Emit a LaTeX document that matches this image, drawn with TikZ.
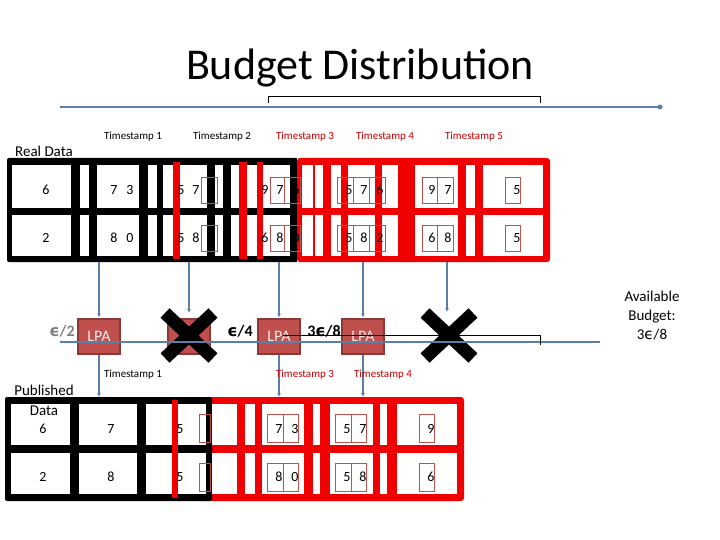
\documentclass[tikz,border=0pt]{standalone}
\usepackage{fontspec}
\usetikzlibrary{arrows.meta}
\setmainfont{Carlito}
\newfontfamily\dv{DejaVu Sans}
\definecolor{rr}{HTML}{F00000}
\definecolor{lpaf}{HTML}{C0504D}
\definecolor{lpad}{HTML}{8C3836}
\definecolor{bl}{HTML}{5A80AA}
\definecolor{dr}{HTML}{C00000}
\begin{document}
\begin{tikzpicture}[x=1pt,y=-1pt,
  ts/.style={font=\fontsize{11}{12}\selectfont,inner sep=0pt},
  num/.style={font=\fontsize{14}{15}\selectfont,inner sep=0pt},
  sbox/.style={draw=lpaf,line width=0.8pt},
  lpa/.style={draw=lpad,line width=2pt,fill=lpaf,minimum width=42pt,minimum height=35pt,inner sep=0pt,text=white!85!gray,font=\fontsize{16}{17}\selectfont},
  ar/.style={draw=bl,line width=1.3pt,-{Latex[length=4pt,width=4pt]}},
  bln/.style={draw=bl,line width=1.3pt},
  crossl/.style={line width=13pt,black}]
\useasboundingbox (0,0) rectangle (720,540);
\fill[white] (0,0) rectangle (720,540);
\node[font=\fontsize{44}{46}\selectfont,inner sep=0pt] (title) at (360,68) {Budget Distribution};
% top lines
\draw[bln] (60,107) -- (660,107);
\fill[bl] (660,107) circle (2.5pt);
\draw[line width=0.8pt] (268,103) -- (268,96) -- (540,96) -- (540,103);
% timestamps
\node[ts] (t1) at (133,137) {Timestamp 1};
\node[ts] (t2) at (222,137) {Timestamp 2};
\node[ts,text=dr] (t3) at (305,137) {Timestamp 3};
\node[ts,text=dr] (t4) at (385,137) {Timestamp 4};
\node[ts,text=dr] (t5) at (474,137) {Timestamp 5};
\node[font=\fontsize{15}{16}\selectfont,inner sep=0pt] (rd) at (44,151) {Real Data};
% top table
\fill[black,rounded corners=2pt] (7,158) rectangle (297,262);
\fill[rr,rounded corners=3pt] (297,158) rectangle (550,262);
\fill[black] (290,158) rectangle (297,262);
\foreach \a/\b in {173/180,239/247,257/263} \fill[rr] (\a,162) rectangle (\b,259);
\foreach \a/\b in {12/71,80/89,97/139,148/157,163/173,180/207,215/223,231/239,247/257,263/290,302/313,315/323,331/341,348/375,382/398,415/458,466/475,483/543}{
  \fill[white] (\a,165) rectangle (\b,208);
  \fill[white] (\a,215) rectangle (\b,256);}
\foreach \a/\b in {201/217,270/284,284/300,337/353,353/369,369/385,422/437,437/453,505/520}{
  \draw[sbox] (\a,177) rectangle (\b,203);
  \draw[sbox] (\a,225) rectangle (\b,251);}
\foreach \x/\u/\v in {46/6/2,114/7/8,130/3/0,181/5/5,196/7/8,212/6/2,265/9/6,280/7/8,296/6/0,349/5/5,364/7/8,380/6/2,432/9/6,448/7/8,517/5/5}{
  \node[num] at (\x,190) {\u};
  \node[num] at (\x,238) {\v};}
% LPA row
\node[lpa] (l1) at (99,336) {LPA};
\node[lpa] (lx) at (189,336) {};
\node[lpa] (l3) at (279,336) {LPA};
\node[lpa] (l4) at (363,336) {LPA};
\draw[crossl] (165,313) -- (213,358) (165,358) -- (213,313);
\draw[crossl] (425,313) -- (473,358) (425,358) -- (473,313);
\draw[bln] (60,342) -- (600,342);
\draw[line width=0.8pt] (283,335) -- (540,335) -- (540,345);
\node[font=\bfseries\fontsize{16}{17}\selectfont,text=gray,inner sep=0pt] (e2) at (62,331) {{\dv ϵ}/2};
\node[font=\bfseries\fontsize{16}{17}\selectfont,inner sep=0pt] (e4) at (240,331) {{\dv ϵ}/4};
\node[font=\bfseries\fontsize{16}{17}\selectfont,inner sep=0pt] (e8) at (324,331) {3{\dv ϵ}/8};
\node[font=\fontsize{15}{19}\selectfont,align=center,inner sep=0pt] (av) at (652,316) {Available\\Budget:\\3{\dv ϵ}/8};
% vertical connectors
\coordinate (a1) at (99,262); \coordinate (a2) at (189,262); \coordinate (a3) at (279,262);
\coordinate (a4) at (363,262); \coordinate (a5) at (447,262);
\coordinate (b1) at (99,397); \coordinate (b3) at (279,397); \coordinate (b4) at (363,397);
\draw[ar] (a1) -- (l1.north);
\draw[ar] (a2) -- (189,313);
\draw[ar] (a3) -- (l3.north);
\draw[ar] (a4) -- (l4.north);
\draw[ar] (a5) -- (447,312);
\draw[ar] (l1.south) -- (b1);
\draw[ar] (l3.south) -- (b3);
\draw[ar] (l4.south) -- (b4);
% bottom labels
\node[ts] (bt1) at (133,375) {Timestamp 1};
\node[ts,text=dr] (bt3) at (305,375) {Timestamp 3};
\node[ts,text=dr] (bt4) at (383,375) {Timestamp 4};
% bottom table
\fill[rr,rounded corners=3pt] (200,397) rectangle (464,501);
\fill[black,rounded corners=2pt] (5,397) rectangle (212,501);
\fill[rr] (172,400) rectangle (178,498);
\foreach \a/\b in {11/70,79/137,146/172,178/206,212/237,245/255,262/304,313/320,330/373,380/387,397/457}{
  \fill[white] (\a,404) rectangle (\b,445);
  \fill[white] (\a,453) rectangle (\b,494);}
\foreach \a/\b in {199/210,267/283,283/298,335/351,351/366,419/434}{
  \draw[sbox] (\a,414) rectangle (\b,442);
  \draw[sbox] (\a,463) rectangle (\b,491);}
\node[font=\fontsize{15}{16}\selectfont,inner sep=0pt,fill=white] (pub) at (44,390) {Published};
\node[font=\fontsize{15}{16}\selectfont,inner sep=0pt] (dat) at (44,411) {Data};
\foreach \x/\u/\v in {43/6/2,111/7/8,180/5/5,279/7/8,295/3/0,347/5/5,363/7/8,431/9/6}{
  \node[num] at (\x,429) {\u};
  \node[num] at (\x,477) {\v};}
\end{tikzpicture}
\end{document}
